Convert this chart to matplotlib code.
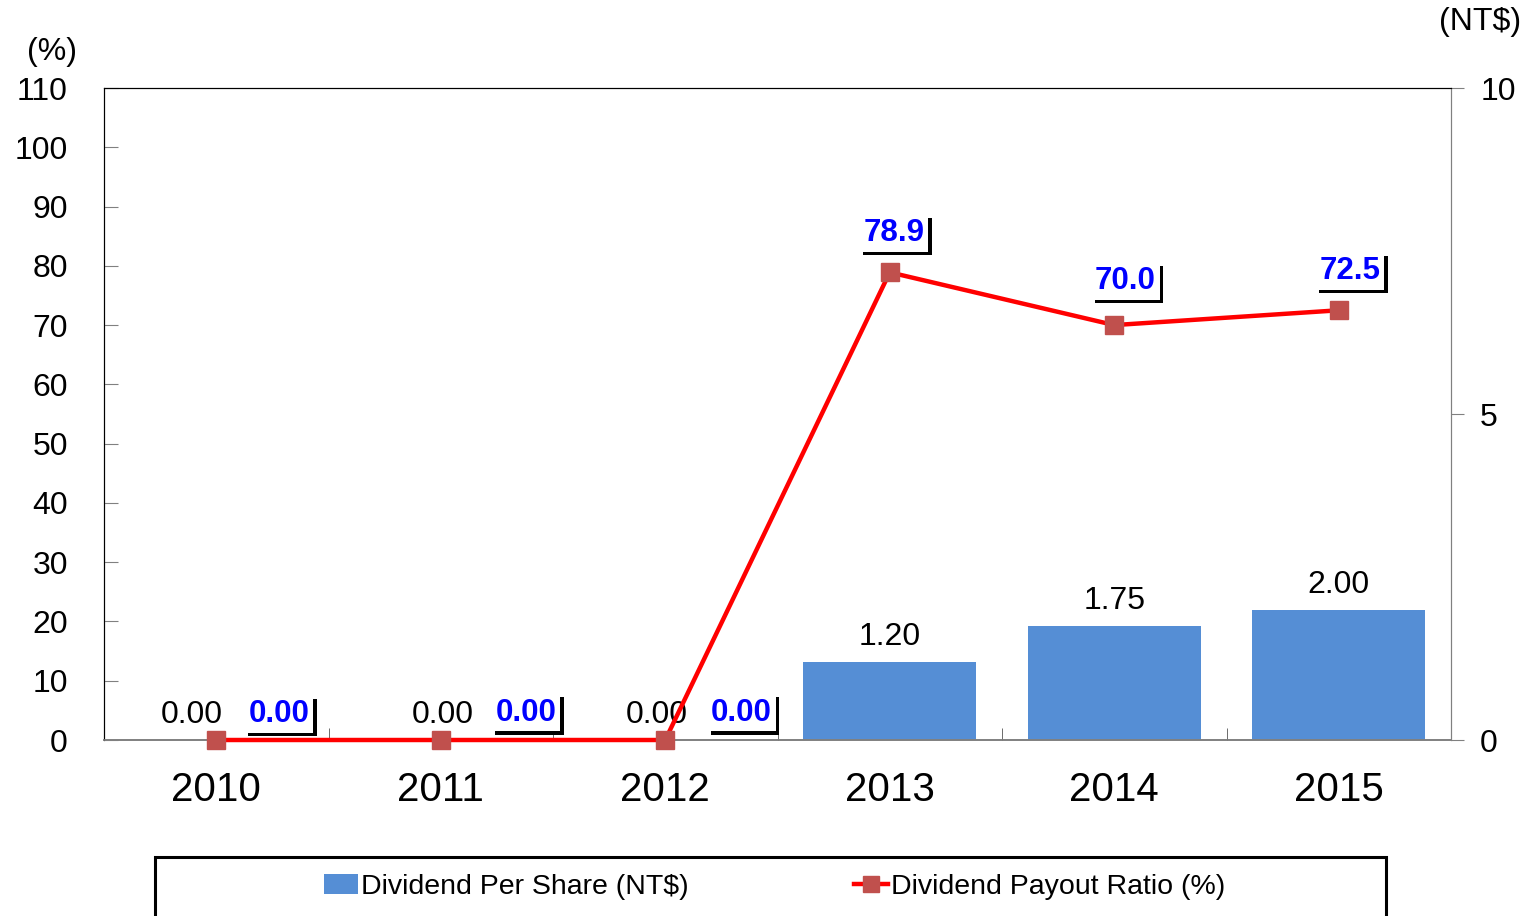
import matplotlib.pyplot as plt
import matplotlib.patheffects as pe
from matplotlib.patches import Rectangle, Patch
from matplotlib.lines import Line2D
import numpy as np

plt.rcParams["font.family"] = ["Liberation Sans", "DejaVu Sans"]

years = ["2010", "2011", "2012", "2013", "2014", "2015"]
dividend = [0.00, 0.00, 0.00, 1.20, 1.75, 2.00]        # NT$
payout = [0.00, 0.00, 0.00, 78.9, 70.0, 72.5]          # %

# label offsets, category units (x) and axis units (y)
bar_lbl_dx = [-0.11, 0.01, -0.04, 0, 0, 0]
pay_lbl_dx = [0.28, 0.38, 0.34, 0.02, 0.05, 0.05]
pay_lbl_dy = [4.4, 4.6, 4.6, 6.6, 7.4, 6.6]

BAR = "#558ED5"
LINE = "#FF0000"
MARK = "#C0504D"

fig = plt.figure(figsize=(15.28, 9.16), dpi=100)
ax = fig.add_axes([104 / 1528, 1 - 740 / 916, (1451 - 104) / 1528, (740 - 88) / 916])
ax2 = ax.twinx()

x = np.arange(len(years))

# bars on the right (NT$) axis
ax2.bar(x, dividend, width=0.77, color=BAR, zorder=2)
for i, v in enumerate(dividend):
    ax2.text(i + bar_lbl_dx[i], v + 0.38, f"{v:.2f}", ha="center", va="center",
             fontsize=23, color="black")
ax2.set_ylim(0, 10)
ax2.set_yticks([0, 5, 10])
ax2.tick_params(axis="y", direction="out", length=9, color="gray",
                labelsize=23, pad=12)

# payout ratio line drawn above the bars
ax.set_zorder(ax2.get_zorder() + 1)
ax.patch.set_visible(False)
ax.plot(x, payout, color=LINE, lw=3.2, marker="s", ms=13, mfc=MARK, mec=MARK,
        zorder=3, clip_on=False)
for i, v in enumerate(payout):
    t = ax.text(i + pay_lbl_dx[i], v + pay_lbl_dy[i], f"{v:.1f}" if v else "0.00",
                ha="center", va="center", fontsize=22.5, fontweight="bold",
                color="#0000FF", zorder=4,
                bbox=dict(boxstyle="square,pad=0.12", fc="white", ec="none"))
    t.get_bbox_patch().set_path_effects([
        pe.SimplePatchShadow(offset=(2.5, -2.5), shadow_rgbFace="black", alpha=1),
        pe.Normal()])

ax.set_xlim(-0.5, 5.5)
ax.set_ylim(0, 110)
ax.set_yticks(range(0, 111, 10))
ax.tick_params(axis="y", direction="in", length=10, color="gray",
               labelsize=23, pad=26)
ax.set_xticks(x)
ax.set_xticklabels(years, fontsize=29)
ax.tick_params(axis="x", length=0, pad=22)
ax.set_xticks(np.arange(0.5, 5.5, 1), minor=True)
ax.tick_params(axis="x", which="minor", direction="in", length=9, color="#555555")

for a in (ax, ax2):
    a.spines["top"].set_color("black")
    a.spines["left"].set_color("black")
    a.spines["bottom"].set_color("gray")
    a.spines["right"].set_color("gray")
    a.spines["bottom"].set_linewidth(1.2)
ax2.tick_params(axis="x", length=0)

fig.text(52 / 1528, 1 - 52 / 916, "(%)", ha="center", va="center", fontsize=23)
fig.text(1480 / 1528, 1 - 22 / 916, "(NT$)", ha="center", va="center", fontsize=23)

# legend box running off the bottom edge
fig.patches.append(Rectangle((155 / 1528, -0.05), (1386 - 155) / 1528,
                             1 - 857 / 916 + 0.05, transform=fig.transFigure,
                             fill=False, ec="black", lw=2.2))
handles = [Patch(facecolor=BAR, label="Dividend Per Share (NT$)"),
           Line2D([], [], color=LINE, lw=3.2, marker="s", ms=11, mfc=MARK,
                  mec=MARK, label="Dividend Payout Ratio (%)")]
fig.legend(handles=handles, loc="center", bbox_to_anchor=(0.507, 1 - 887 / 916),
           ncol=2, frameon=False, fontsize=20.5, handlelength=1.2,
           handletextpad=0.1, columnspacing=5.8)

fig.savefig("out.png", dpi=100)
